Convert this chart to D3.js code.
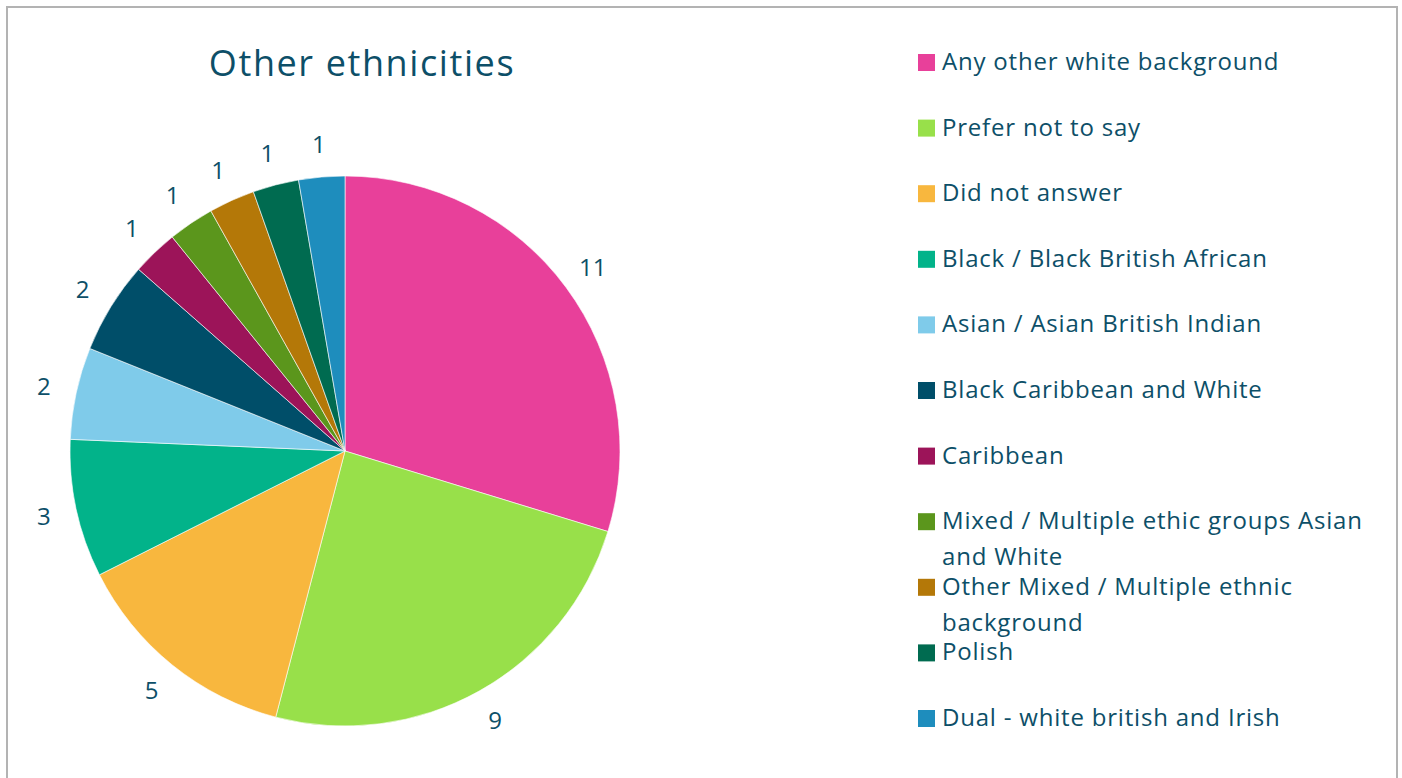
<!DOCTYPE html>
<html>
<head>
<meta charset="utf-8">
<script src="https://cdn.jsdelivr.net/npm/d3@7"></script>
<style>
  html, body { margin: 0; padding: 0; background: #fff; }
  svg { display: block; }
  text { font-family: "Open Sans", "Noto Sans", sans-serif; fill: #0d4f68; }
</style>
</head>
<body>
<svg id="chart" width="1402" height="778"></svg>
<script>
// Respondent counts by ethnicity (slices run clockwise from 12 o'clock)
const categories = [
  "Any other white background",
  "Prefer not to say",
  "Did not answer",
  "Black / Black British African",
  "Asian / Asian British Indian",
  "Black Caribbean and White",
  "Caribbean",
  "Mixed / Multiple ethic groups Asian and White",
  "Other Mixed / Multiple ethnic background",
  "Polish",
  "Dual - white british and Irish"
];
const counts = [11, 9, 5, 3, 2, 2, 1, 1, 1, 1, 1];
const colors = [
  "#e8409a", "#98e04a", "#f8b73e", "#02b38a", "#7fcbea", "#004e69",
  "#9c1459", "#5b961c", "#b47808", "#006b50", "#1e8dbd"
];
const title = "Other ethnicities";

const svg = d3.select("#chart");

// outer frame
svg.append("rect")
  .attr("x", 7).attr("y", 7)
  .attr("width", 1390).attr("height", 790)
  .attr("fill", "#fff")
  .attr("stroke", "#b3b3b3")
  .attr("stroke-width", 2);

// title
svg.append("text")
  .attr("x", 362).attr("y", 76)
  .attr("text-anchor", "middle")
  .style("font-size", "36px")
  .style("letter-spacing", "1.6px")
  .text(title);

const data = categories.map((c, i) => ({ name: c, value: counts[i], color: colors[i] }));

const cx = 345, cy = 451, radius = 275, labelRadius = 308;

const pie = d3.pie().value(d => d.value).sort(null);
const arc = d3.arc().innerRadius(0).outerRadius(radius);
const labelArc = d3.arc().innerRadius(labelRadius).outerRadius(labelRadius);

const g = svg.append("g").attr("transform", `translate(${cx},${cy})`);
const arcs = pie(data);

g.selectAll("path.slice")
  .data(arcs)
  .join("path")
  .attr("class", "slice")
  .attr("d", arc)
  .attr("fill", d => d.data.color)
  .attr("stroke", "#ffffff")
  .attr("stroke-width", 0.6);

g.selectAll("text.value")
  .data(arcs)
  .join("text")
  .attr("class", "value")
  .attr("transform", d => {
    const [x, y] = labelArc.centroid(d);
    return `translate(${x},${y})`;
  })
  .attr("text-anchor", "middle")
  .attr("dy", "0.36em")
  .style("font-size", "24px")
  .text(d => d.data.value);

// legend
const legendX = 918, legendY0 = 62, rowStep = 65.6, lineStep = 36, maxTextWidth = 430;
const legend = svg.append("g");

data.forEach((d, i) => {
  const rowY = legendY0 + i * rowStep;
  legend.append("rect")
    .attr("x", legendX).attr("y", rowY - 8)
    .attr("width", 17).attr("height", 17)
    .attr("fill", d.color);

  const t = legend.append("text")
    .attr("x", legendX + 24).attr("y", rowY + 8)
    .style("font-size", "24px")
    .style("letter-spacing", "0.8px");

  // wrap long names onto further lines
  const words = d.name.split(" ");
  let line = [];
  let tspan = t.append("tspan").attr("x", legendX + 24).attr("dy", 0);
  words.forEach(w => {
    line.push(w);
    tspan.text(line.join(" "));
    if (tspan.node().getComputedTextLength() > maxTextWidth && line.length > 1) {
      line.pop();
      tspan.text(line.join(" "));
      line = [w];
      tspan = t.append("tspan").attr("x", legendX + 24).attr("dy", lineStep).text(w);
    }
  });
});
</script>
</body>
</html>
